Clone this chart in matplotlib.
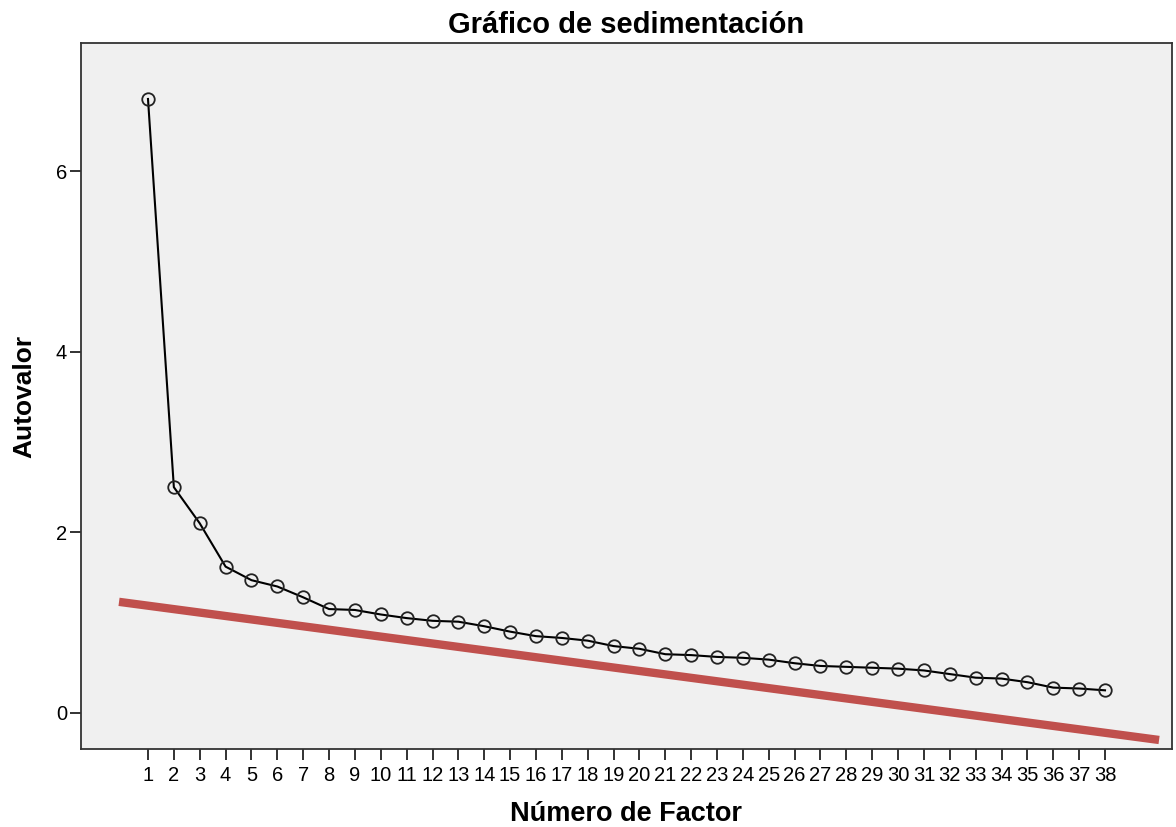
import numpy as np
import matplotlib
matplotlib.use("Agg")
import matplotlib.pyplot as plt

plt.rcParams["font.family"] = ["Liberation Sans", "DejaVu Sans"]

factors = list(range(1, 39))
eigenvalues = [6.80, 2.50, 2.10, 1.62, 1.47, 1.40, 1.28, 1.15, 1.14, 1.09,
               1.05, 1.02, 1.01, 0.96, 0.90, 0.85, 0.83, 0.80, 0.74, 0.71,
               0.65, 0.64, 0.62, 0.61, 0.59, 0.55, 0.52, 0.51, 0.50, 0.49,
               0.47, 0.43, 0.39, 0.38, 0.34, 0.28, 0.27, 0.25]

# red reference line drawn over the plot
ref_x = [-0.12, 40.09]
ref_y = [1.23, -0.30]


def main():
    fig = plt.figure(figsize=(11.76, 8.27), dpi=100)
    ax = fig.add_axes([81 / 1176, 1 - 749 / 827, (1172 - 81) / 1176, (749 - 43) / 827])
    ax.set_facecolor("#f0f0f0")

    ax.plot(factors, eigenvalues, color="black", lw=1.5, marker="o",
            markersize=9, markerfacecolor="none", markeredgecolor="#222222",
            markeredgewidth=1.3, zorder=3)
    ax.plot(ref_x, ref_y, color="#c0504d", lw=6, solid_capstyle="butt", zorder=4)

    ax.set_xlim(-1.59, 40.59)
    ax.set_ylim(-0.40, 7.42)
    ax.set_xticks(factors)
    ax.set_xticklabels([str(f) for f in factors])
    ax.set_yticks([0, 2, 4, 6])

    for side in ["top", "right", "left", "bottom"]:
        ax.spines[side].set_color("#333333")
        ax.spines[side].set_linewidth(1.3)
    ax.tick_params(axis="both", direction="out", length=8, width=1.3,
                   labelsize=14.5, color="#222222", pad=2)
    ax.tick_params(axis="x", pad=4)

    ax.set_title("Gráfico de sedimentación", fontsize=21, fontweight="bold", pad=7)
    ax.set_xlabel("Número de Factor", fontsize=19.5, fontweight="bold", labelpad=12)
    ax.set_ylabel("Autovalor", fontsize=19, fontweight="bold", labelpad=14)

    fig.savefig("out.png", dpi=100)


if __name__ == "__main__":
    main()
